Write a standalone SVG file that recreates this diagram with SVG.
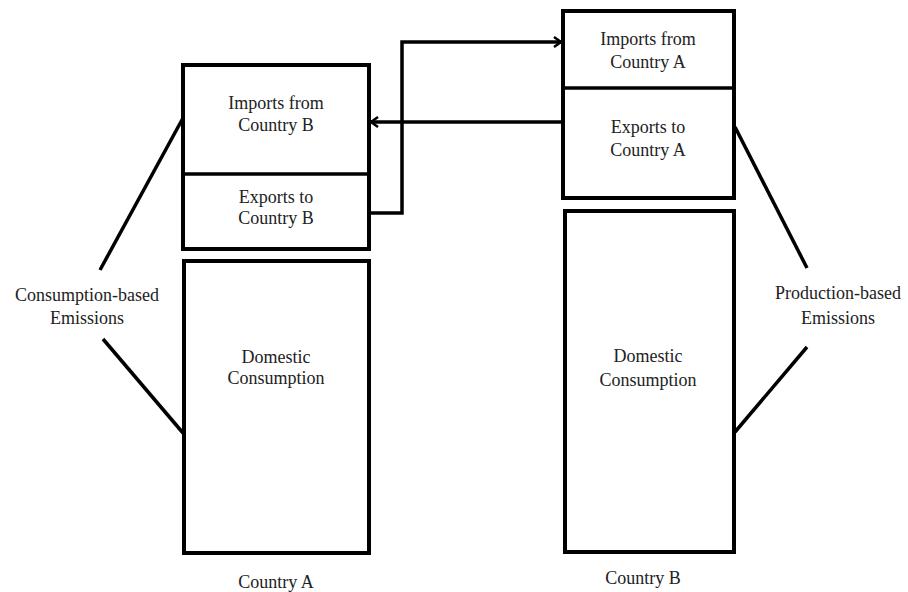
<svg xmlns="http://www.w3.org/2000/svg" width="908" height="592" viewBox="0 0 908 592">
<defs>
<marker id="arr" markerWidth="12" markerHeight="12" refX="9" refY="6" orient="auto" markerUnits="userSpaceOnUse">
<path d="M2,1 L9,6 L2,11" fill="none" stroke="#000" stroke-width="2.5"/>
</marker>
<style>
.box{fill:#fff;stroke:#000;stroke-width:4}
.ln{fill:none;stroke:#000;stroke-width:3.5}
text{font-family:'Liberation Serif','DejaVu Serif','Times New Roman',serif;font-size:18px;fill:#222;text-anchor:middle}
</style>
</defs>
<rect width="908" height="592" fill="#fff"/>
<g id="countryA-trade">
<rect class="box" x="183" y="65" width="186" height="184"/>
<line class="ln" x1="183" y1="174" x2="369" y2="174" stroke-width="4"/>
<text x="276" y="109">Imports from</text>
<text x="276" y="131">Country B</text>
<text x="276" y="203">Exports to</text>
<text x="276" y="224">Country B</text>
</g>
<g id="countryA-domestic">
<rect class="box" x="184" y="261" width="185" height="292"/>
<text x="276" y="363">Domestic</text>
<text x="276" y="384">Consumption</text>
</g>
<text x="276" y="588">Country A</text>
<g id="countryB-trade">
<rect class="box" x="563" y="11" width="171" height="187"/>
<line class="ln" x1="563" y1="88" x2="734" y2="88" stroke-width="4"/>
<text x="648" y="45">Imports from</text>
<text x="648" y="68">Country A</text>
<text x="648" y="133">Exports to</text>
<text x="648" y="156">Country A</text>
</g>
<g id="countryB-domestic">
<rect class="box" x="565" y="211" width="169" height="341"/>
<text x="648" y="362">Domestic</text>
<text x="648" y="386">Consumption</text>
</g>
<text x="643" y="584">Country B</text>
<g id="consumption-label">
<text x="87" y="301">Consumption-based</text>
<text x="87" y="324">Emissions</text>
</g>
<g id="production-label">
<text x="838" y="299">Production-based</text>
<text x="838" y="324">Emissions</text>
</g>
<g id="connectors">
<polyline class="ln" points="369,213 402,213 402,42 561,42" marker-end="url(#arr)"/>
<line class="ln" x1="563" y1="122" x2="371" y2="122" marker-end="url(#arr)"/>
<line class="ln" x1="183" y1="118" x2="100" y2="270"/>
<line class="ln" x1="103" y1="339" x2="183" y2="433"/>
<line class="ln" x1="735" y1="127" x2="807" y2="268"/>
<line class="ln" x1="807" y1="347" x2="735" y2="432"/>
</g>
</svg>
